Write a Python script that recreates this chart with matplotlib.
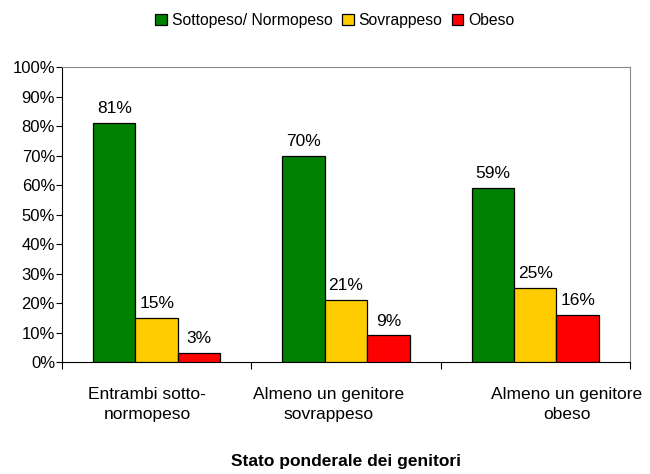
import matplotlib.pyplot as plt
import numpy as np

plt.rcParams['font.family'] = ['Liberation Sans', 'DejaVu Sans']

groups = ['Entrambi sotto-\nnormopeso', 'Almeno un genitore\nsovrappeso', 'Almeno un genitore\nobeso']
series = ['Sottopeso/ Normopeso', 'Sovrappeso', 'Obeso']
sottopeso = [81, 70, 59]
sovrappeso = [15, 21, 25]
obeso = [3, 9, 16]
colors = ['#008000', '#FFCC00', '#FF0000']


def plot():
    fig = plt.figure(figsize=(6.5, 4.74), dpi=100)
    ax = fig.add_axes([0.0954, 0.2363, 0.8736, 0.6217])

    x = np.arange(len(groups)) + 0.5
    w = 0.224
    for i, (name, vals) in enumerate(zip(series, [sottopeso, sovrappeso, obeso])):
        bars = ax.bar(x + (i - 1) * w, vals, w, color=colors[i], edgecolor='black',
                      linewidth=0.9, label=name, zorder=3)
        for b, v in zip(bars, vals):
            ax.annotate('%d%%' % v, (b.get_x() + b.get_width() / 2, v),
                        xytext=(0, 5), textcoords='offset points',
                        ha='center', va='bottom', fontsize=12.5)

    ax.set_xlim(0, 3)
    ax.set_ylim(0, 100)
    ax.set_yticks(range(0, 101, 10))
    ax.set_yticklabels(['%d%%' % t for t in range(0, 101, 10)], fontsize=12)
    ax.tick_params(axis='y', length=4, width=0.8, pad=1)

    # category separators as minor ticks, labels placed like the original
    ax.set_xticks([0, 1, 2, 3], minor=True)
    ax.tick_params(axis='x', which='minor', length=5, width=0.8)
    ax.set_xticks([0.449, 1.41, 2.668])
    ax.set_xticklabels(groups, fontsize=12.5)
    for lbl in ax.get_xticklabels():
        lbl.set_linespacing(1.45)
    ax.tick_params(axis='x', which='major', length=0, pad=18)

    for s in ['top', 'right']:
        ax.spines[s].set_color('#888888')
    for s in ['left', 'bottom']:
        ax.spines[s].set_color('black')

    ax.set_xlabel('Stato ponderale dei genitori', fontsize=12.5, fontweight='bold', labelpad=23)

    fig.legend(loc='center', bbox_to_anchor=(0.515, 0.957), ncol=3, frameon=False,
               fontsize=11.3, handlelength=0.75, handleheight=0.75,
               handletextpad=0.3, columnspacing=0.6)

    plt.savefig('out.png')


if __name__ == '__main__':
    plot()
